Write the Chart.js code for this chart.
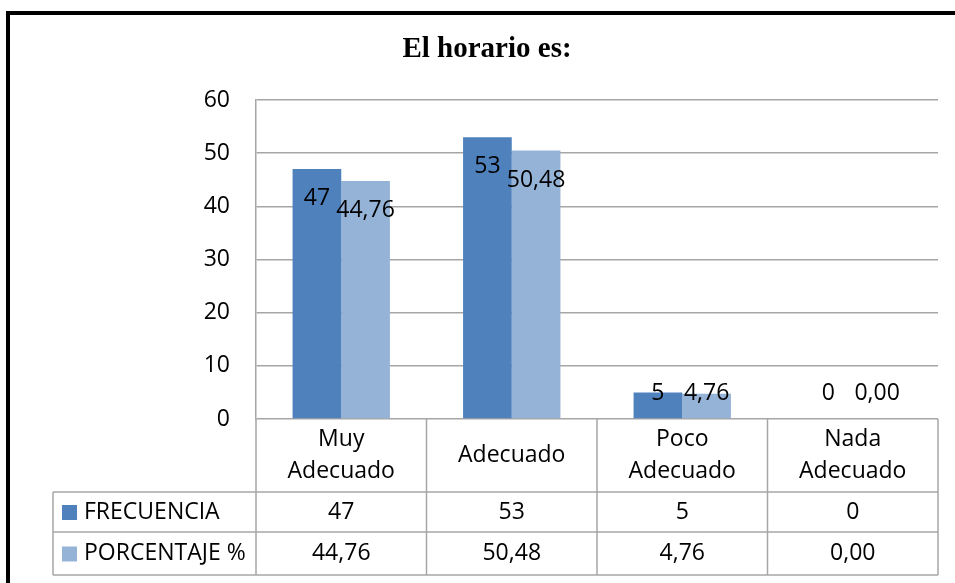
<!DOCTYPE html>
<html>
<head>
<meta charset="utf-8">
<title>El horario es:</title>
<script src="https://cdn.jsdelivr.net/npm/chart.js@4.4.1/dist/chart.umd.min.js"></script>
<style>
  html, body { margin: 0; padding: 0; background: #fff; }
  canvas { display: block; }
</style>
</head>
<body>
<canvas id="horarioChart" width="955" height="583"></canvas>
<script>
const categories = [['Muy', 'Adecuado'], ['Adecuado'], ['Poco', 'Adecuado'], ['Nada', 'Adecuado']];
const frecuencia = [47, 53, 5, 0];
const porcentaje = [44.76, 50.48, 4.76, 0.00];
const seriesNames = ['FRECUENCIA', 'PORCENTAJE %'];
const yTicks = [0, 10, 20, 30, 40, 50, 60];

const FONT = "'Open Sans', 'Noto Sans', sans-serif";
const FSIZE = 23;
const GRID = '#a6a6a6';
const colors = ['#4f81bd', '#95b3d7'];

const fmt = (v, ds) => ds === 0 ? String(v) : v.toFixed(2).replace('.', ',');

// black frame around the chart
const framePlugin = {
  id: 'frame',
  afterDraw(chart) {
    const ctx = chart.ctx;
    ctx.save();
    ctx.strokeStyle = '#000';
    ctx.lineWidth = 4;
    ctx.beginPath();
    ctx.moveTo(8, 583);
    ctx.lineTo(8, 13);
    ctx.lineTo(955, 13);
    ctx.stroke();
    ctx.restore();
  }
};

// value labels on the bars
const barLabels = {
  id: 'barLabels',
  afterDatasetsDraw(chart) {
    const ctx = chart.ctx;
    const area = chart.chartArea;
    ctx.save();
    ctx.font = FSIZE + 'px ' + FONT;
    ctx.fillStyle = '#000';
    ctx.textAlign = 'center';
    ctx.textBaseline = 'middle';
    chart.data.datasets.forEach((ds, di) => {
      chart.getDatasetMeta(di).data.forEach((bar, i) => {
        const y = Math.min(bar.y + 29.5, area.bottom - 26);
        ctx.fillText(fmt(ds.data[i], di), bar.x, y);
      });
    });
    ctx.restore();
  }
};

// data table under the plot
const dataTable = {
  id: 'dataTable',
  afterDraw(chart) {
    const ctx = chart.ctx;
    const x = chart.scales.x;
    const area = chart.chartArea;
    const top = area.bottom;
    const rows = [492, 532, 575];
    const tableLeft = 53;
    const step = x.getPixelForValue(1) - x.getPixelForValue(0);
    ctx.save();
    ctx.strokeStyle = GRID;
    ctx.lineWidth = 1.5;
    ctx.beginPath();
    rows.forEach(r => { ctx.moveTo(tableLeft, r); ctx.lineTo(area.right, r); });
    ctx.moveTo(tableLeft, rows[0]);
    ctx.lineTo(tableLeft, rows[2]);
    for (let i = 0; i <= categories.length; i++) {
      const bx = x.getPixelForValue(0) - step / 2 + i * step;
      ctx.moveTo(bx, top);
      ctx.lineTo(bx, rows[2]);
    }
    ctx.stroke();

    ctx.font = FSIZE + 'px ' + FONT;
    ctx.fillStyle = '#000';
    ctx.textBaseline = 'middle';
    ctx.textAlign = 'center';
    categories.forEach((lines, i) => {
      const cx = x.getPixelForValue(i);
      const mid = (top + rows[0]) / 2;
      const lh = 32;
      lines.forEach((t, k) => {
        ctx.fillText(t, cx, mid + (k - (lines.length - 1) / 2) * lh);
      });
      ctx.fillText(fmt(frecuencia[i], 0), cx, (rows[0] + rows[1]) / 2);
      ctx.fillText(fmt(porcentaje[i], 1), cx, (rows[1] + rows[2]) / 2);
    });

    ctx.textAlign = 'left';
    seriesNames.forEach((name, k) => {
      const cy = (rows[k] + rows[k + 1]) / 2;
      ctx.fillStyle = colors[k];
      ctx.fillRect(62, cy - 7, 15, 15);
      ctx.fillStyle = '#000';
      ctx.fillText(name, 84, cy);
    });
    ctx.restore();
  }
};

new Chart(document.getElementById('horarioChart'), {
  type: 'bar',
  data: {
    labels: categories,
    datasets: [
      { label: seriesNames[0], data: frecuencia, backgroundColor: colors[0] },
      { label: seriesNames[1], data: porcentaje, backgroundColor: colors[1] }
    ]
  },
  options: {
    responsive: false,
    animation: false,
    layout: { padding: { left: 36, right: 17, top: 0, bottom: 0 } },
    datasets: { bar: { categoryPercentage: 0.571, barPercentage: 1, borderWidth: 0 } },
    plugins: {
      legend: { display: false },
      tooltip: { enabled: false },
      title: {
        display: true,
        text: 'El horario es:',
        color: '#000',
        font: { family: "'Liberation Serif', 'Times New Roman', serif", size: 29, weight: 'bold', lineHeight: 1.2 },
        padding: { top: 32.6, bottom: 32.6 }
      }
    },
    scales: {
      x: {
        ticks: { display: false },
        grid: { display: false },
        border: { display: false },
        afterFit(scale) { scale.height = 164; }
      },
      y: {
        min: 0,
        max: 60,
        afterBuildTicks(scale) { scale.ticks = yTicks.map(v => ({ value: v })); },
        ticks: { color: '#000', font: { family: FONT, size: FSIZE }, padding: 26 },
        grid: { color: GRID, lineWidth: 1.5, drawTicks: false },
        border: { display: true, color: GRID, width: 1.5 },
        afterFit(scale) { scale.width = 220; }
      }
    }
  },
  plugins: [barLabels, dataTable, framePlugin]
});
</script>
</body>
</html>
